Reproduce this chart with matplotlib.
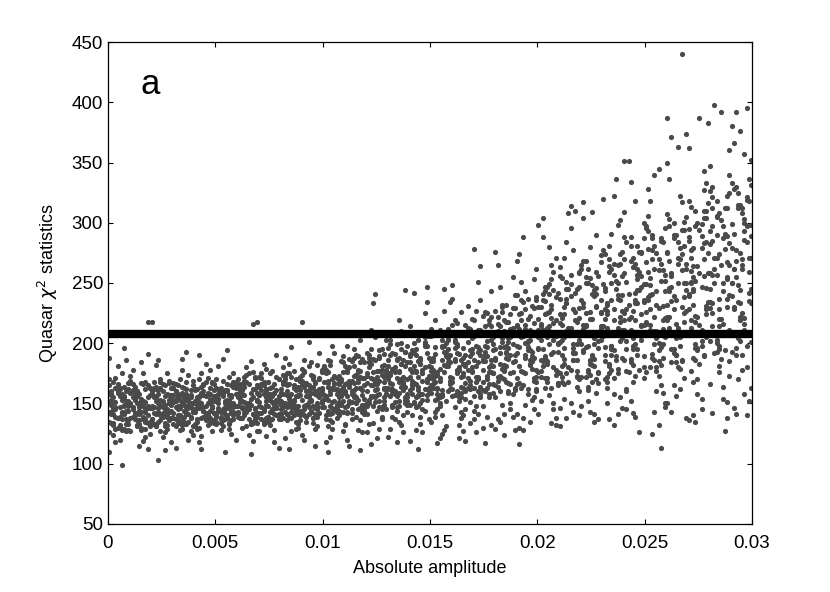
import numpy as np
import matplotlib.pyplot as plt

plt.rcParams['font.family'] = ['Liberation Sans', 'DejaVu Sans']

# amplitude columns, 0.001 wide; each token is "d" + "yyy":
# d = tenth of the column (x offset), yyy = chi^2 value
col_width = 0.001

# spread of the cloud, outliers included
columns = [
    "0110 6099 2145 8152 4138 1160 7149 3171 9133 5156 0126 2168 6142 8137 1153 4181 7129 3147 9162 5120 0158 2134 6175 8149 1141 4165 7155 3118 9144 5132 0170 2151 6128 8186 1143 4159 7196 3139 9148 5163 0188 2124",
    "8218 3150 7137 1166 5128 9146 2158 6119 0173 4141 8155 3132 7162 1147 5184 9125 2153 6139 0169 4144 8112 3157 7135 1178 5149 9163 0127 2142 6152 8191 4136 3160 7122 1145 5154 9131 0167 2140 6175 8148 4115 3156 7143",
    "0218 3103 5151 9138 2164 7129 1147 4170 8143 6156 0134 3161 5122 9149 2182 7140 1155 4127 8167 6145 0137 3158 5152 9118 2141 7175 1133 4163 8150 6126 0148 3186 5139 9157 2131 7144 1168 4136 8153 6111 0160 3146 5142",
    "1152 6141 0163 4129 8147 3170 7135 2156 9124 5144 1160 6133 0151 4178 8139 3148 7120 2165 9143 5155 1131 6158 0142 4187 8127 3153 7146 2136 9169 5149 1113 6162 0138 4150 8157 3128 7174 2140 9145 5133 1154 6193",
    "2149 7163 0131 5156 9142 3175 8127 1153 6140 4166 2118 7150 0145 5183 9136 3159 8148 1129 6171 4144 2155 7134 0162 5141 9152 3123 8168 1146 6137 4157 2130 7178 0150 5140 9161 3112 8147 1135 6158 4144 2190 7153",
    "0154 5140 9168 3131 7157 1146 6172 2128 8150 4137 0163 5149 9120 3156 7142 1181 6134 2160 8147 4110 0152 5138 9166 3144 7125 1158 6151 2139 8175 4145 0133 5161 9148 3187 7136 1154 6129 2143 8164 4150 0141 5194",
    "7216 9218 1156 4143 8171 2130 6159 0148 3167 5124 9152 1138 4180 8145 2161 6133 0155 3172 7141 5150 9127 1164 4147 8136 2158 6185 0142 3151 7119 5166 9139 1154 4131 8162 2146 6108 0157 3140 7176 5149 9134 1160",
    "9113 2158 6144 0172 4135 8161 3149 7128 1166 5153 9140 2183 6137 0157 4168 8146 3123 7159 1142 5175 9150 2133 6164 0148 4139 8190 3155 7118 1161 5143 9170 2136 6151 0127 4158 8147 3179 7141 1165 5132 9156 2145",
    "1158 5143 9172 3136 7161 0149 4183 8130 2167 6152 0141 4175 8156 2121 6163 1147 5138 9169 3157 7129 1180 5151 9144 3165 7135 0159 4112 8148 2173 6140 0162 4154 8133 2188 6146 1166 5127 9157 3141 7170 1150 5197",
    "0218 3161 7146 1176 5138 9159 2167 6129 0153 4184 8142 3165 7150 1120 5172 9147 2135 6158 0169 4144 8192 3155 7131 1164 5148 9178 2139 6160 0124 4152 8170 3141 7157 1186 5134 9163 2149 6115 0174 4143 8158 3201",
    "2164 6148 0181 4135 8169 1155 5192 9127 3160 7144 2176 6138 0157 4170 8149 1118 5166 9152 3185 7140 2131 6162 0147 4198 8156 1137 5173 9159 3122 7151 2167 6143 0180 4129 8161 1154 5145 9189 3136 7168 2110 6158",
    "7111 1167 5150 9184 3137 7172 0159 4195 8143 2164 6128 1178 5155 9141 3169 7203 0132 4161 8148 2187 6153 1120 5174 9146 3160 7136 0181 4157 8126 2166 6145 1198 5139 9171 3151 7163 0133 4188 8149 2115 6176 1142",
    "4241 3233 8172 2155 6188 0141 5166 9203 1150 7178 3134 8162 2195 6147 0173 5121 9158 1184 7139 4168 8152 2211 6129 0175 5144 9161 1190 7137 3156 8182 2116 6169 0148 4205 9158 1133 5177 7145 3187 8163 0126 6152",
    "8244 1175 5152 9198 3137 7168 0186 4144 2162 6210 1129 5177 9155 3191 7140 0172 4118 8164 2149 6183 1203 5135 9170 3158 7126 0181 4147 8193 2166 6132 1156 5219 9143 3176 7161 0122 4187 8150 2139 6170 1199 5159",
    "2242 8247 0179 4156 7201 1140 5188 9163 3128 6175 0214 4148 8170 2192 5133 9181 1158 7225 3147 6169 0119 4185 8153 2177 5139 9206 1163 7144 3190 6126 0172 4157 8234 2150 5183 9137 1166 7198 3176 6145 0161 4112",
    "3117 0185 5161 9209 2143 7190 1174 6227 4150 8181 0135 5198 9166 2219 7152 1188 6128 4171 8203 3145 0180 5158 9234 2139 7193 1163 6176 4121 8212 3154 0186 5140 9169 2197 7131 1177 6245 4148 8184 3162 0206 5125",
    "1187 6160 0215 4143 8194 2175 7231 3152 9180 5127 1203 6167 0248 4138 8189 2158 7212 3121 9176 5196 1147 6183 0162 4226 8134 2199 7171 3155 9208 5140 1185 6119 0237 4164 8151 2192 7178 3132 9220 5163 1201 6145",
    "0278 5117 2193 7166 1227 4148 8186 3211 6139 9175 2251 7158 1198 4130 8182 3236 6163 9205 0144 5190 2172 7219 1126 4168 8243 3155 6197 9181 0137 5226 2160 7207 1148 4185 8132 3264 6170 9194 0156 5214 2141 7176",
    "4197 9163 3232 7150 1210 5181 0129 8255 2173 6204 4141 9190 3226 7166 1137 5218 0186 8158 2247 6196 4124 9208 3171 7145 1265 5188 0155 8229 2135 6201 4178 9240 3149 7212 1169 5192 0276 8139 2183 6160 4219 9128",
    "1116 6203 0171 4243 8155 2219 7189 3138 9262 5197 0166 4228 8145 2209 6182 1274 5158 9236 3128 7193 0215 4149 8253 2177 6135 1224 5201 9162 3288 7185 0141 4212 8169 2251 6194 1130 5237 9178 3206 7153 0268 4188",
    "2304 0298 5210 9176 3247 7193 1152 6228 4185 8271 0141 5214 9199 3163 7259 1230 6134 4205 8178 2288 0220 5157 9242 3188 7145 1216 6265 4171 8132 2236 0195 5280 9167 3224 7150 1203 6253 4183 8138 2211 0176 5241",
    "4308 7310 1215 5178 9259 2196 6143 0237 3284 8164 1221 5150 9203 2271 6186 0131 3245 8209 1172 5296 9229 2154 6192 0263 3138 8218 1181 5249 9160 2205 6277 0146 3233 8199 1168 5314 9140 2224 6186 0256 3210 8173",
    "1317 4220 8176 2268 6199 0148 5241 9212 3161 7290 1230 4186 8137 2255 6204 0172 5309 9225 3152 7246 1193 4280 8167 2214 6135 0262 5182 9236 3198 7159 1304 4226 8175 2250 6141 0207 5190 9273 3164 7231 1215 4143",
    "0320 6336 2227 7179 3281 9208 5158 1246 4195 8302 2232 7141 3264 9188 5219 1170 4291 8236 2150 7213 3175 9256 5132 1228 4198 8274 2163 7240 3209 9146 5322 1185 4250 8222 2168 7298 3137 9204 5266 1190 4236 8155",
    "0351 2351 7126 5233 9180 3288 8215 1160 6257 4198 0309 5242 9171 3222 8276 1145 6208 4263 0186 5318 9234 3152 8247 1195 6281 4168 0225 5139 9300 3211 8256 1177 6233 4142 0270 5219 9189 3334 8203 1162 6244 4227",
    "7113 2240 6185 0296 4222 8159 3270 9205 1328 5180 0249 4143 8261 2215 6173 1306 5232 9150 3287 7197 2254 6132 0218 4340 8188 3241 7165 1278 5210 9147 2318 6229 0176 4262 8199 3125 7287 1238 5160 9252 2211 6345",
    "0387 2371 5363 7440 9374 1246 4190 8301 3228 6162 0275 5213 9138 2258 7185 1336 4236 8171 3290 6207 0150 5266 9244 2195 7317 1222 4156 8281 3239 6179 0350 5208 9262 2143 7230 1297 4184 8250 3165 6322 0219 5271",
    "9383 5387 1251 4196 8310 2232 6154 0288 3218 7343 1177 4264 8205 2140 6299 0241 3186 7327 1260 4158 8228 2279 6198 0136 3252 7310 1213 4170 8284 2245 6145 0362 3223 7189 1271 4209 8333 2168 6247 0295 3135 7256",
    "2398 5392 7127 0258 4195 8322 1233 6164 3290 9211 0347 4176 8267 1142 6243 3306 9185 0229 4274 8151 1330 6208 3257 9173 0282 4220 8138 1312 6250 3193 9360 0166 4237 8289 1214 6154 3271 9340 0202 4181 8255 1297",
    "2392 0380 1366 5262 9201 3315 7180 4244 8336 6158 0279 4222 9352 2190 6300 1146 5265 9233 3170 7321 0250 4376 8209 2141 6286 1228 5312 9163 3248 7395 0193 4275 8152 2330 6216 1262 5178 9298 3234 7140 6357 8271",
]

# the dense core of the cloud
core = [
    "5131 1158 8144 3163 6137 0150 9128 4166 7141 2155 5147 1134 8160 3129 6153 0143 9167 4138 7156 2132 5162 1149 8127 3145 6158 0135 9152 4130 7164 2146 5139 1157 8133 3151 6143 0165 9136 4160 7148 2141",
    "5152 1139 8165 3131 6148 0159 9135 4144 7168 2154 5130 1161 8146 3156 6137 0149 9163 4133 7151 2142 5167 1145 8134 3160 6152 0138 9157 4147 7129 2164 5143 1155 8140 3136 6166 0150 9132 4158 7145 2137",
    "5147 1163 8136 3152 6131 0158 9144 4168 7139 2155 5160 1133 8150 3143 6165 0137 9154 4148 7132 2162 5141 1156 8169 3135 6149 0161 9138 4153 7145 2131 5166 1142 8157 3150 6134 0146 9163 4140 7158 2152",
    "5163 1137 8155 3146 6168 0133 9150 4159 7141 2134 5152 1166 8138 3157 6145 0151 9131 4164 7149 2158 5135 1147 8161 3140 6153 0167 9144 4132 7156 2148 5139 1160 8150 3134 6142 0157 9165 4137 7153 2145",
    "5142 1155 8167 3138 6150 0161 9134 4147 7158 2170 5136 1149 8153 3164 6140 0133 9156 4160 7144 2151 5168 1137 8146 3157 6132 0152 9142 4165 7138 2156 5148 1162 8135 3150 6159 0143 9166 4139 7154 2146",
    "5160 1144 8137 3169 6152 0139 9158 4147 7165 2134 5153 1162 8143 3136 6157 0170 9148 4141 7155 2163 5138 1150 8168 3145 6133 0156 9142 4161 7149 2137 5166 1154 8140 3159 6146 0135 9163 4152 7143 2158",
    "5149 1166 8140 3157 6135 0170 9153 4144 7162 2138 5175 1151 8146 3164 6133 0158 9142 4168 7155 2147 5137 1160 8172 3143 6154 0139 9165 4150 7134 2161 5145 1156 8138 3169 6149 0143 9159 4174 7141 2152",
    "5163 1147 8172 3138 6156 0151 9141 4168 7159 2144 5136 1175 8153 3162 6143 0157 9170 4139 7149 2165 5155 1137 8146 3160 6177 0142 9153 4148 7166 2135 5158 1171 8140 3152 6145 0164 9137 4156 7150 2168",
    "5152 1168 8141 3175 6149 0137 9161 4155 7144 2170 5158 1138 8164 3147 6177 0152 9140 4166 7156 2143 5172 1149 8135 3160 6153 0145 9169 4139 7162 2150 5147 1174 8157 3141 6165 0159 9136 4150 7145 2167",
    "5170 1148 8158 3181 6141 0165 9152 4174 7145 2160 5138 1177 8155 3147 6168 0142 9161 4153 7182 2149 5164 1140 8171 3157 6146 0179 9150 4163 7139 2156 5173 1145 8162 3151 6167 0143 9176 4159 7148 2166",
    "5162 1178 8150 3141 6171 0157 9184 4146 7166 2153 5145 1175 8160 3182 6149 0168 9143 4163 7155 2186 5152 1140 8170 3158 6147 0180 9164 4151 7173 2144 5167 1156 8185 3148 6161 0154 9176 4142 7159 2169",
    "5174 1156 8187 3145 6168 0160 9149 4181 7163 2152 5190 1143 8171 3158 6178 0147 9165 4155 7184 2169 5151 1176 8161 3142 6189 0166 9154 4173 7146 2180 5163 1148 8157 3185 6170 0159 9144 4167 7177 2150",
    "5172 1188 8155 3165 6194 0150 9178 4161 7147 2183 5169 1153 8191 3176 6158 0167 9145 4186 7174 2156 5162 1180 8149 3170 6189 0160 9175 4151 7195 2165 5157 1184 8168 3148 6177 0192 9163 4155 7181 2171",
    "5176 1162 8193 3151 6183 0170 9158 4199 7166 2147 5188 1174 8155 3180 6164 0196 9149 4171 7186 2159 5168 1190 8153 3177 6200 0163 9184 4156 7172 2192 5148 1167 8181 3160 6195 0175 9152 4186 7165 2179",
    "5183 1165 8198 3155 6178 0191 9160 4172 7205 2151 5186 1169 8157 3195 6175 0149 9188 4164 7180 2200 5158 1176 8192 3166 6153 0184 9171 4203 7162 2181 5150 1194 8168 3177 6158 0189 9173 4161 7199 2167",
    "5186 1170 8205 3158 6193 0177 9162 4211 7181 2153 5197 1166 8188 3174 6209 0159 9184 4169 7200 2191 5156 1178 8195 3163 6182 0212 9172 4155 7189 2168 5203 1185 8160 3176 6198 0165 9190 4179 7207 2173",
    "5188 1206 8165 3178 6215 0156 9195 4172 7201 2160 5183 1219 8169 3191 6154 0209 9177 4186 7163 2198 5173 1157 8212 3180 6190 0168 9204 4159 7184 2217 5175 1196 8162 3207 6181 0171 9192 4155 7213 2178",
    "5193 1172 8214 3158 6202 0186 9166 4223 7180 2197 5160 1209 8176 3190 6225 0163 9199 4178 7155 2211 5185 1168 8203 3194 6173 0219 9159 4187 7207 2170 5198 1181 8222 3164 6189 0206 9175 4161 7216 2184",
    "5198 1216 8176 3230 6187 0165 9209 4182 7224 2160 5193 1172 8213 3201 6159 0227 9185 4170 7205 2192 5232 1164 8199 3179 6218 0188 9161 4210 7175 2197 5168 1222 8184 3204 6167 0195 9229 4177 7190 2214",
    "5202 1181 8229 3165 6211 0192 9238 4175 7208 2163 5220 1197 8171 3234 6186 0214 9160 4200 7179 2225 5194 1167 8217 3206 6183 0240 9172 4190 7231 2205 5162 1212 8188 3176 6223 0198 9168 4215 7185 2236",
    "5209 1186 8238 3171 6221 0196 9165 4247 7203 2181 5226 1214 8174 3243 6191 0230 9200 4168 7217 2185 5249 1177 8206 3235 6163 0211 9193 4225 7180 2241 5199 1172 8219 3189 6232 0205 9167 4213 7244 2195",
    "5213 1190 8245 3175 6228 0201 9258 4168 7219 2183 5239 1207 8177 3251 6196 0224 9170 4213 7242 2187 5257 1203 8172 3233 6193 0217 9247 4180 7226 2166 5209 1254 8186 3237 6199 0175 9221 4245 7192 2230",
    "5220 1194 8256 3178 6239 0207 9267 4185 7230 2172 5248 1212 8196 3262 6181 0236 9203 4254 7170 2225 5189 1268 8209 3176 6244 0199 9226 4183 7259 2215 5168 1233 8202 3250 6187 0265 9214 4174 7241 2197",
    "5228 1197 8266 3181 6245 0214 9276 4190 7237 2172 5257 1220 8202 3270 6186 0249 9211 4262 7175 2233 5194 1274 8218 3183 6252 0206 9240 4178 7265 2224 5171 1243 8210 3259 6189 0277 9227 4198 7250 2213",
    "5236 1202 8275 3184 6253 0219 9287 4195 7244 2176 5266 1228 8206 3281 6190 0258 9215 4271 7178 2241 5199 1284 8224 3187 6262 0211 9249 4182 7276 2232 5173 1251 8214 3268 6195 0288 9236 4204 7259 2220",
    "5243 1208 8284 3188 6261 0226 9296 4199 7252 2180 5275 1236 8212 3290 6194 0267 9221 4281 7182 2248 5204 1293 8231 3191 6270 0216 9257 4186 7285 2240 5177 1259 8219 3277 6200 0297 9243 4210 7266 2228",
    "5250 1213 8294 3192 6270 0232 9305 4204 7261 2184 5284 1243 8218 3300 6198 0276 9227 4290 7186 2256 5210 1303 8238 3195 6279 0222 9266 4190 7294 2247 5180 1268 8225 3287 6205 0307 9250 4216 7274 2235",
    "5258 1219 8304 3196 6279 0239 9316 4209 7270 2188 5294 1250 8224 3310 6202 0285 9234 4300 7190 2264 5215 1313 8246 3199 6289 0228 9275 4194 7304 2255 5183 1277 8231 3297 6211 0318 9258 4222 7283 2243",
    "5265 1225 8312 3200 6287 0245 9325 4214 7278 2192 5302 1257 8230 3318 6207 0293 9240 4308 7194 2271 5220 1321 8253 3203 6297 0234 9283 4198 7312 2262 5187 1285 8237 3305 6216 0326 9265 4228 7291 2250",
    "5270 1230 8318 3204 6293 0250 9331 4219 7284 2196 5308 1262 8235 3325 6211 0299 9245 4315 7198 2277 5225 1328 8259 3207 6303 0239 9289 4202 7319 2268 5190 1291 8242 3312 6221 0333 9271 4233 7297 2255",
]
threshold = 208


def read_columns(cols):
    xs, ys = [], []
    for i, col in enumerate(cols):
        for tok in col.split():
            xs.append((i + (int(tok[0]) + 0.5) / 10) * col_width)
            ys.append(int(tok[1:]))
    return xs, ys


x1, y1 = read_columns(columns)
x2, y2 = read_columns(core)
amp = np.array(x1 + x2)
chi2 = np.array(y1 + y2)

fig = plt.figure(figsize=(8.3, 5.92), dpi=100)
ax = fig.add_axes([0.130, 0.115, 0.776, 0.814])

ax.scatter(amp, chi2, s=14, c='#4a4a4a', linewidths=0, zorder=2)
ax.axhline(threshold, color='black', lw=6, zorder=3)

ax.set_xlim(0, 0.03)
ax.set_ylim(50, 450)
ax.set_xticks([0, 0.005, 0.01, 0.015, 0.02, 0.025, 0.03])
ax.set_xticklabels(['0', '0.005', '0.01', '0.015', '0.02', '0.025', '0.03'])
ax.set_yticks(range(50, 451, 50))
ax.tick_params(direction='in', top=True, right=True, length=3.5, width=0.8,
               labelsize=13.5)
ax.tick_params(axis='x', pad=8)
for sp in ax.spines.values():
    sp.set_linewidth(0.9)

ax.set_xlabel('Absolute amplitude', fontsize=13, labelpad=6)
ax.set_ylabel(r'Quasar $\chi^2$ statistics', fontsize=13, labelpad=8)
ax.text(0.0015, 415, 'a', fontsize=25, va='center')

fig.savefig('out.png', dpi=100)
